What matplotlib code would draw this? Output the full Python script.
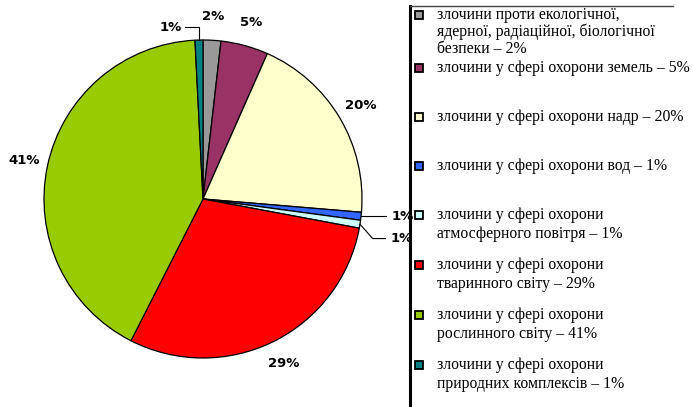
import numpy as np
import matplotlib.pyplot as plt
from matplotlib.patches import Rectangle
from matplotlib.lines import Line2D

# slice shares (clockwise from 12 o'clock)
shares = [1.8, 4.8, 19.6, 0.8, 0.8, 29.4, 41.5, 0.8]
pct_labels = ["2%", "5%", "20%", "1%", "1%", "29%", "41%", "1%"]
colors = ["#999999", "#993366", "#FFFFCC", "#3366FF",
          "#CCFFFF", "#FF0000", "#99CC00", "#008080"]
legend_labels = [
    "злочини проти екологічної,\nядерної, радіаційної, біологічної\nбезпеки – 2%",
    "злочини у сфері охорони земель – 5%",
    "злочини у сфері охорони надр – 20%",
    "злочини у сфері охорони вод – 1%",
    "злочини у сфері охорони\nатмосферного повітря – 1%",
    "злочини у сфері охорони\nтваринного світу – 29%",
    "злочини у сфері охорони\nрослинного світу – 41%",
    "злочини у сфері охорони\nприродних комплексів – 1%",
]

W, H = 693, 407
fig = plt.figure(figsize=(W / 100, H / 100), dpi=100)

# pie axes: centre at (203, 199) px from top-left, radius 159 px
R, cx, cy, lim = 159, 203, 199, 1.3
side = 2 * lim * R
ax = fig.add_axes([(cx - side / 2) / W, (H - cy - side / 2) / H, side / W, side / H])

wedges, _ = ax.pie(shares, colors=colors, startangle=90, counterclock=False,
                   wedgeprops=dict(edgecolor="black", linewidth=0.9))
ax.set_xlim(-lim, lim)
ax.set_ylim(-lim, lim)
ax.set_aspect("equal")
ax.axis("off")

lab_font = dict(fontsize=9.5, fontweight="bold", family="DejaVu Sans",
                ha="center", va="center", color="black")
for i, w in enumerate(wedges):
    ang = np.deg2rad((w.theta1 + w.theta2) / 2)
    ex, ey = np.cos(ang), np.sin(ang)
    if i == 7:      # teal, leader up and left
        ax.plot([ex, ex, ex - 0.09], [ey, ey + 0.08, ey + 0.08], color="black", lw=0.8)
        ax.text(ex - 0.18, ey + 0.08, pct_labels[i], **lab_font)
    elif i == 3:    # blue, straight leader right
        ax.plot([ex, ex + 0.16], [ey, ey], color="black", lw=0.8)
        ax.text(ex + 0.26, ey, pct_labels[i], **lab_font)
    elif i == 4:    # light cyan, bent leader
        ax.plot([ex, ex + 0.08, ex + 0.16], [ey, ey - 0.09, ey - 0.09], color="black", lw=0.8)
        ax.text(ex + 0.26, ey - 0.09, pct_labels[i], **lab_font)
    else:
        d = 1.15
        ax.text(d * ex, d * ey, pct_labels[i], **lab_font)

# legend drawn by hand to follow the uneven spacing of the original
fig.add_artist(Line2D([410 / W, 410 / W], [1 - 6 / H, 0], color="black", lw=2.2))
fig.add_artist(Line2D([410 / W, 673 / W], [1 - 6 / H, 1 - 6 / H], color="#444444", lw=1))

marker_y = [15, 68, 117, 166, 215, 265, 315, 365]
for i, lbl in enumerate(legend_labels):
    y = marker_y[i]
    fig.add_artist(Rectangle((415 / W, 1 - (y + 4) / H), 8 / W, 8 / H,
                             facecolor=colors[i], edgecolor="black", lw=1.3))
    ls = 1.05 if i == 0 else 1.22
    fig.text(437 / W, 1 - (y - 8) / H, lbl, fontsize=11.3, family="Liberation Serif",
             ha="left", va="top", linespacing=ls, color="black")

fig.savefig("out.png", dpi=100)
